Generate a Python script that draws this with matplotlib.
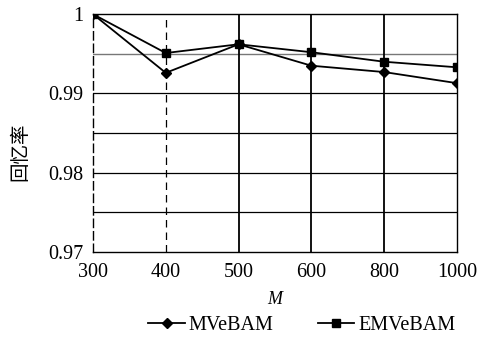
import numpy as np
import matplotlib.pyplot as plt
from matplotlib.lines import Line2D


# =========================
# Data
# =========================

m_labels = ["300", "400", "500", "600", "800", "1000"]

mvebam = [1.0, 0.9926, 0.9962, 0.9935, 0.9927, 0.9913]

emvebam = [1.0, 0.9951, 0.9962, 0.9952, 0.9940, 0.9933]


# =========================
# Figure
# =========================

plt.rcParams["font.family"] = ["Liberation Serif", "Noto Sans CJK SC"]

fig = plt.figure(
    figsize=(4.83, 3.37),
    dpi=100
)

ax = fig.add_axes([0.1925, 0.252, 0.7535, 0.706])

x = np.arange(len(m_labels))

# grid
for yv in [0.975, 0.98, 0.985, 0.99]:
    ax.axhline(yv, color="black", lw=0.9, zorder=1)
ax.axhline(0.995, color="#777777", lw=1.0, zorder=1)

for i in x[1:-1]:
    ls = (0, (6, 4)) if i == 1 else "-"
    ax.axvline(i, color="black", lw=1.3 if i > 1 else 0.9, ls=ls, zorder=1)

ax.plot(
    x, mvebam,
    color="black", lw=1.3,
    marker="D", markersize=5,
    zorder=3
)

ax.plot(
    x, emvebam,
    color="black", lw=1.3,
    marker="s", markersize=6,
    zorder=3
)

ax.set_xlim(0, len(m_labels) - 1)
ax.set_ylim(0.97, 1.0)

ax.set_xticks(x)
ax.set_xticklabels(m_labels, fontsize=14.5)

ax.set_yticks([0.97, 0.98, 0.99, 1.0])
ax.set_yticklabels(["0.97", "0.98", "0.99", "1"], fontsize=14.5)

ax.tick_params(axis="x", length=0, pad=8)
ax.tick_params(axis="y", length=0, pad=7)

for s in ax.spines.values():
    s.set_color("black")
    s.set_linewidth(1.0)
ax.spines["left"].set_linestyle((0, (6, 3)))

ax.set_xlabel("M", fontsize=13, style="italic", labelpad=6)

fig.text(
    0.042, 0.55, "回忆率",
    rotation=90, ha="center", va="center",
    fontsize=14, family=["Noto Sans CJK SC"]
)

handles = [
    Line2D([], [], color="black", lw=1.3, marker="D", markersize=5),
    Line2D([], [], color="black", lw=1.3, marker="s", markersize=6),
]

fig.legend(
    handles, ["MVeBAM", "EMVeBAM"],
    loc="center", bbox_to_anchor=(0.625, 0.035),
    ncol=2, frameon=False, fontsize=14.5,
    handlelength=1.8, handletextpad=0.2, columnspacing=2.2
)

fig.savefig("out.png", dpi=100)
